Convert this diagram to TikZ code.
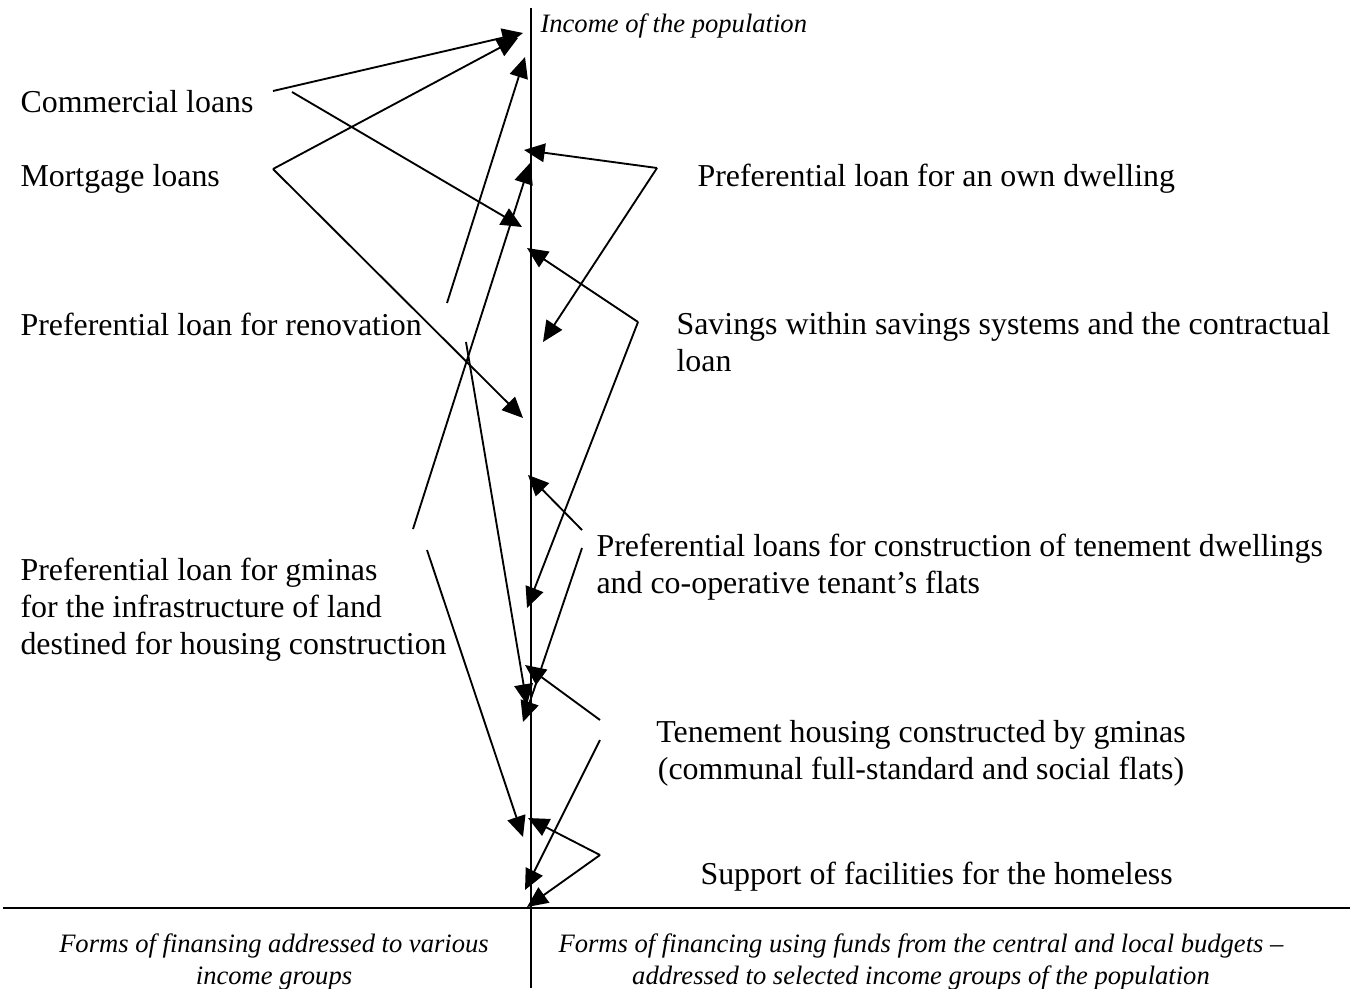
\documentclass[tikz,border=0pt]{standalone}
\usepackage{fontspec}
\setmainfont{Liberation Serif}
\usetikzlibrary{arrows.meta,positioning}
\tikzset{
  lbl/.style={inner sep=0pt,font=\fontsize{12pt}{13.9pt}\selectfont},
  capt/.style={inner sep=0pt,font=\fontsize{10pt}{12pt}\selectfont\itshape},
  ar/.style={line width=0.7pt,-{Triangle[length=7.8pt,width=7pt]}}
}
\begin{document}
\begin{tikzpicture}[x=0.3762pt,y=-0.3762pt]
\useasboundingbox (0,0) rectangle (1353,988);
\coordinate (AT) at (531,8);    \coordinate (AB) at (531,988);
\coordinate (HL) at (3,908);    \coordinate (HR) at (1350,908);
\node (inc) [capt,anchor=base west] at (540,33) {Income of the population};
\node (cl)  [lbl,anchor=base west] at (20,113) {Commercial loans};
\node (ml)  [lbl,anchor=base west] at (20,187) {Mortgage loans};
\node (ren) [lbl,anchor=base west] at (20,335) {Preferential loan for renovation};
\node (gm)  [lbl,anchor=base west,align=left] at (20,654) {Preferential loan for gminas\\for the infrastructure of land\\destined for housing construction};
\node (od)  [lbl,anchor=base west] at (697,187) {Preferential loan for an own dwelling};
\node (sv)  [lbl,anchor=base west,align=left] at (676,371) {Savings within savings systems and the contractual\\loan};
\node (pc)  [lbl,anchor=base west,align=left] at (596,593) {Preferential loans for construction of tenement dwellings\\and co-operative tenant's flats};
\node (th)  [lbl,anchor=base,align=center] at (921,779) {Tenement housing constructed by gminas\\(communal full-standard and social flats)};
\node (sp)  [lbl,anchor=base west] at (700,884) {Support of facilities for the homeless};
\node (fl)  [capt,anchor=base,align=center] at (274,984) {Forms of finansing addressed to various\\income groups};
\node (fr)  [capt,anchor=base,align=center] at (921,984) {Forms of financing using funds from the central and local budgets --\\addressed to selected income groups of the population};
\coordinate (CL1) at (273,91);  \coordinate (CL2) at (292,92);
\coordinate (ML) at (273,169);
\coordinate (RE1) at (447,303); \coordinate (RE2) at (466,342);
\coordinate (GM1) at (413,529); \coordinate (GM2) at (427,550);
\coordinate (OD) at (657,168);  \coordinate (SV) at (638,322);
\coordinate (PC1) at (582,530); \coordinate (PC2) at (582,548);
\coordinate (TH1) at (600,720); \coordinate (TH2) at (600,740);
\coordinate (SP) at (600,855);
\coordinate (T1) at (523,33);   \coordinate (T2) at (522,227);
\coordinate (T3) at (518,38);   \coordinate (T4) at (523,418);
\coordinate (T5) at (525,57);   \coordinate (T6) at (530,163);
\coordinate (T7) at (527,705);  \coordinate (T8) at (523,837);
\coordinate (T9) at (524,150);  \coordinate (T10) at (543,342);
\coordinate (T11) at (527,248); \coordinate (T12) at (527,608);
\coordinate (T13) at (528,475); \coordinate (T14) at (523,722);
\coordinate (T15) at (525,665); \coordinate (T16) at (525,890);
\coordinate (T17) at (528,818); \coordinate (T18) at (527,907);
\draw [line width=0.8pt] (AT)--(AB);
\draw [line width=1pt] (HL)--(HR);
\draw [ar] (CL1)--(T1);
\draw [ar] (CL2)--(T2);
\draw [ar] (ML)--(T3);
\draw [ar] (ML)--(T4);
\draw [ar] (RE1)--(T5);
\draw [ar] (RE2)--(T7);
\draw [ar] (GM1)--(T6);
\draw [ar] (GM2)--(T8);
\draw [ar] (OD)--(T9);
\draw [ar] (OD)--(T10);
\draw [ar] (SV)--(T11);
\draw [ar] (SV)--(T12);
\draw [ar] (PC1)--(T13);
\draw [ar] (PC2)--(T14);
\draw [ar] (TH1)--(T15);
\draw [ar] (TH2)--(T16);
\draw [ar] (SP)--(T17);
\draw [ar] (SP)--(T18);
\end{tikzpicture}
\end{document}
